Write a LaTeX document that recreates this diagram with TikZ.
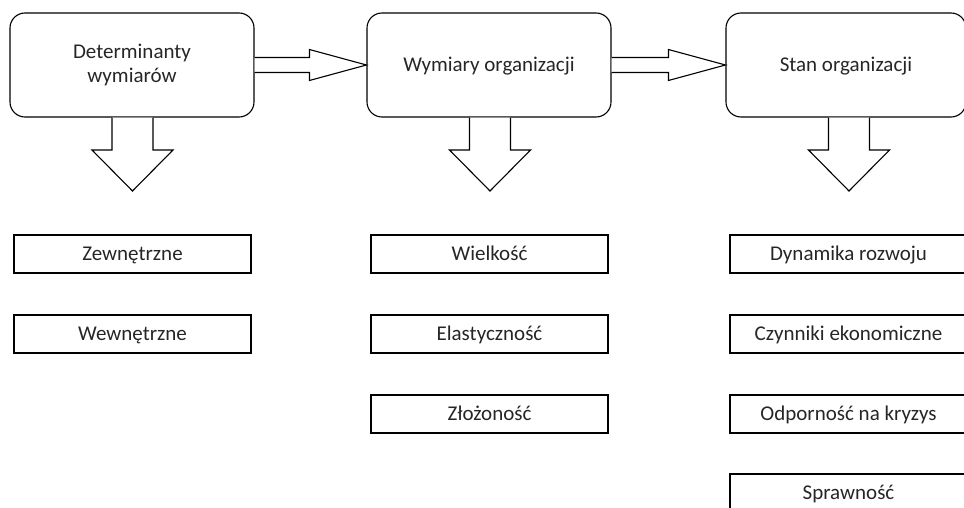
\documentclass[tikz,border=0pt]{standalone}
\usepackage{fontspec}
\setmainfont{Carlito}
\usetikzlibrary{calc}
\begin{document}
\begin{tikzpicture}[x=1pt,y=1pt,
  line width=1.1pt,
  every node/.style={font=\fontsize{21}{24}\selectfont, text=black!85},
  mainbox/.style={draw, rounded corners=15pt, minimum width=244pt, minimum height=104pt,
                  align=center, inner sep=0pt},
  oneline/.style={text height=13.5pt, text depth=0pt},
  itembox/.style={draw, minimum width=237pt, minimum height=38pt, inner sep=0pt,
                  text height=12pt, text depth=0pt},
  blockarrow/.style={draw, line join=miter, fill=white}]
\useasboundingbox (0,0) rectangle (964,-508);

% top row: the three stages
\node[mainbox] (det)  at (132,-65) {Determinanty\\wymiarów};
\node[mainbox, oneline] (wym)  at (489,-65) {Wymiary organizacji};
\node[mainbox, oneline, minimum width=240pt] (stan) at (846,-65) {Stan organizacji};

% item lists under each stage
\node[itembox] (zew) at (132.5,-254) {Zewnętrzne};
\node[itembox] (wew) at (132.5,-334) {Wewnętrzne};

\node[itembox] (wie) at (489.5,-254) {Wielkość};
\node[itembox] (ela) at (489.5,-334) {Elastyczność};
\node[itembox] (zlo) at (489.5,-414) {Złożoność};

\node[itembox] (dyn) at (848.5,-254) {Dynamika rozwoju};
\node[itembox] (czy) at (848.5,-334) {Czynniki ekonomiczne};
\node[itembox] (odp) at (848.5,-414) {Odporność na kryzys};
\node[itembox] (spr) at (848.5,-493) {Sprawność};

% block arrow to the right, from #1 to #2
\newcommand\rightblock[2]{%
  \draw[blockarrow]
    ($(#1.east)+(0,7.5)$) -- ($(#2.west)+(-57,7.5)$) -- ($(#2.west)+(-57,15.5)$)
    -- (#2.west)
    -- ($(#2.west)+(-57,-15.5)$) -- ($(#2.west)+(-57,-7.5)$) -- ($(#1.east)+(0,-7.5)$);}
% block arrow downwards, from the bottom of #1 to the tip #2
\newcommand\downblock[2]{%
  \draw[blockarrow]
    (#1.south -| {$(#2)+(-20.5,0)$}) -- ($(#2)+(-20.5,41)$) -- ($(#2)+(-40.5,41)$)
    -- (#2)
    -- ($(#2)+(40.5,41)$) -- ($(#2)+(20.5,41)$) -- (#1.south -| {$(#2)+(20.5,0)$});}

\rightblock{det}{wym}
\rightblock{wym}{stan}

\coordinate (tipA) at (132.5,-191);
\coordinate (tipB) at (490,-191);
\coordinate (tipC) at (849,-191);
\downblock{det}{tipA}
\downblock{wym}{tipB}
\downblock{stan}{tipC}
\end{tikzpicture}
\end{document}
